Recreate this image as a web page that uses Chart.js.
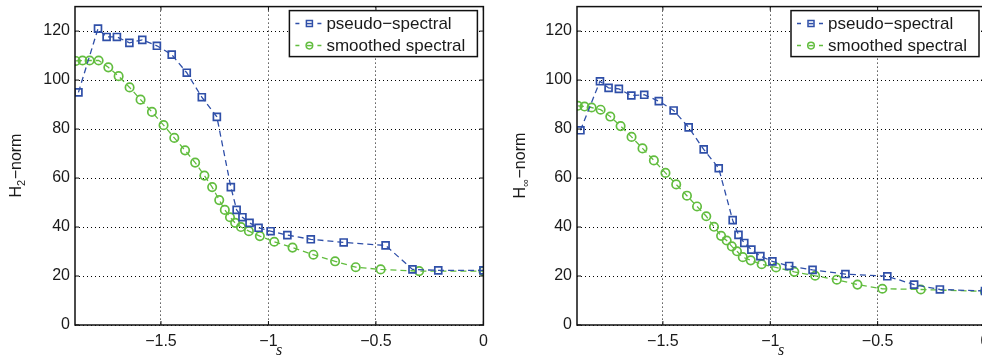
<!DOCTYPE html>
<html>
<head>
<meta charset="utf-8">
<script src="https://cdn.jsdelivr.net/npm/chart.js@4.4.1/dist/chart.umd.min.js"></script>
<style>
    html, body { margin: 0; padding: 0; background: #fff; overflow: hidden; width: 982px; height: 360px; }
    #c1 { position: absolute; left: 0; top: 0; }
    #c2 { position: absolute; left: 500px; top: 0; }
</style>
</head>
<body>
<canvas id="c1" width="490" height="360"></canvas>
<canvas id="c2" width="500" height="360"></canvas>
<script>
// s values (shared by both panels)
const sPseudo = [-1.884, -1.793, -1.753, -1.705, -1.647, -1.587, -1.519, -1.45, -1.38, -1.31, -1.24,
                 -1.175, -1.148, -1.121, -1.088, -1.046, -0.99, -0.912, -0.803, -0.65, -0.455, -0.33, -0.21, 0];
const sSmooth = [-1.896, -1.865, -1.832, -1.79, -1.745, -1.697, -1.646, -1.595, -1.542, -1.488, -1.438,
                 -1.388, -1.341, -1.298, -1.262, -1.229, -1.203, -1.179, -1.155, -1.128, -1.091, -1.04,
                 -0.973, -0.888, -0.791, -0.69, -0.594, -0.478, -0.299, 0];

// H2-norm
const h2Pseudo = [95, 121, 117.6, 117.6, 115.2, 116.4, 114, 110.4, 103, 93, 85,
                  56.3, 47, 44, 41.7, 39.7, 38.3, 36.7, 35, 33.7, 32.5, 22.7, 22.3, 22.3];
const h2Smooth = [107.8, 108, 108, 108, 105.2, 101.6, 97, 92, 87, 81.6, 76.4,
                  71.3, 66.3, 61, 56.3, 51, 47, 44, 41.7, 40, 38.3, 36.3,
                  34, 31.6, 28.7, 26, 23.6, 22.7, 22, 22];

// Hinf-norm
const hinfPseudo = [79.5, 99.5, 96.8, 96.4, 93.7, 94, 91.4, 87.6, 80.7, 71.7, 64,
                    42.8, 36.8, 33.5, 30.8, 28.1, 26, 24.1, 22.5, 20.8, 19.9, 16.5, 14.5, 13.9];
const hinfSmooth = [89.5, 89.2, 88.8, 87.9, 85.1, 81.2, 76.8, 72.1, 67.2, 62.1, 57.4,
                    52.8, 48.4, 44.4, 40.1, 36.4, 34.5, 32.1, 30.1, 27.7, 26.4, 24.8,
                    23.5, 21.7, 20.1, 18.5, 16.5, 14.8, 14.5, 13.7];

const xTicks = [-1.5, -1, -0.5, 0];
const yTicks = [0, 20, 40, 60, 80, 100, 120];
const seriesNames = ['pseudo\u2212spectral', 'smoothed spectral'];

const BLUE = '#2f4fa8';
const GREEN = '#62bd3f';
const FONT = '"Liberation Sans", Arial, sans-serif';

function minusFmt(v) {
    return v < 0 ? '\u2212' + Math.abs(v) : String(v);
}

function drawYLabel(ctx, x, yc, sub) {
    ctx.save();
    ctx.translate(x, yc);
    ctx.rotate(-Math.PI / 2);
    const big = '16px ' + FONT, small = '11px ' + FONT;
    ctx.font = big;
    const wH = ctx.measureText('H').width;
    const wN = ctx.measureText('\u2212norm').width;
    ctx.font = small;
    const wS = ctx.measureText(sub).width;
    let x0 = -(wH + wS + wN) / 2;
    ctx.textBaseline = 'middle';
    ctx.fillStyle = '#1a1a1a';
    ctx.font = big; ctx.fillText('H', x0, 0);
    ctx.font = small; ctx.fillText(sub, x0 + wH, 5);
    ctx.font = big; ctx.fillText('\u2212norm', x0 + wH + wS + 0.5, 0);
    ctx.restore();
}

function drawLegend(ctx, a) {
    const w = 188, h = 46;
    const bx = a.right - 6 - w, by = a.top + 4;
    ctx.save();
    ctx.fillStyle = '#fff';
    ctx.fillRect(bx, by, w, h);
    ctx.strokeStyle = '#111';
    ctx.lineWidth = 1.5;
    ctx.strokeRect(bx, by, w, h);
    const rows = [{ c: BLUE, y: by + 13, m: 'rect' }, { c: GREEN, y: by + 35, m: 'circle' }];
    rows.forEach((r, i) => {
        ctx.strokeStyle = r.c;
        ctx.lineWidth = 1.5;
        ctx.beginPath();
        ctx.moveTo(bx + 6, r.y); ctx.lineTo(bx + 10, r.y);
        ctx.moveTo(bx + 28, r.y); ctx.lineTo(bx + 32, r.y);
        ctx.stroke();
        ctx.beginPath();
        if (r.m === 'rect') ctx.rect(bx + 17, r.y - 3, 6, 6);
        else ctx.arc(bx + 20, r.y, 3.3, 0, Math.PI * 2);
        ctx.stroke();
        ctx.beginPath();
        ctx.moveTo(bx + 17.5, r.y); ctx.lineTo(bx + 22.5, r.y);
        ctx.stroke();
        ctx.fillStyle = '#1a1a1a';
        ctx.font = '17px ' + FONT;
        ctx.textBaseline = 'middle';
        ctx.fillText(seriesNames[i], bx + 37, r.y + 1);
    });
    ctx.restore();
}

const framePlugin = {
    id: 'frame',
    afterDraw(chart, args, opts) {
        const { ctx, chartArea: a, scales } = chart;
        ctx.save();
        ctx.strokeStyle = '#111';
        ctx.lineWidth = 1.5;
        ctx.strokeRect(a.left, a.top, a.right - a.left, a.bottom - a.top);
        // small inward tick marks, MATLAB style
        ctx.lineWidth = 1;
        ctx.beginPath();
        xTicks.forEach(v => {
            const px = scales.x.getPixelForValue(v);
            ctx.moveTo(px, a.bottom); ctx.lineTo(px, a.bottom - 4);
            ctx.moveTo(px, a.top); ctx.lineTo(px, a.top + 4);
        });
        yTicks.forEach(v => {
            const py = scales.y.getPixelForValue(v);
            ctx.moveTo(a.left, py); ctx.lineTo(a.left + 4, py);
            ctx.moveTo(a.right, py); ctx.lineTo(a.right - 4, py);
        });
        ctx.stroke();
        ctx.restore();
        drawLegend(ctx, a);
        drawYLabel(ctx, opts.labelX, (a.top + a.bottom) / 2, opts.sub);
    }
};

function makeChart(id, yPseudo, ySmooth, yWidth, padRight, labelX, sub) {
    return new Chart(document.getElementById(id), {
        type: 'scatter',
        data: {
            datasets: [
                {
                    label: seriesNames[0],
                    data: sPseudo.map((x, i) => ({ x: x, y: yPseudo[i] })),
                    showLine: true,
                    borderColor: BLUE,
                    borderWidth: 1.3,
                    borderDash: [6, 4],
                    pointStyle: 'rect',
                    pointRadius: 4.9,
                    pointBorderWidth: 1.7,
                    pointBorderColor: BLUE,
                    pointBackgroundColor: 'rgba(0,0,0,0)'
                },
                {
                    label: seriesNames[1],
                    data: sSmooth.map((x, i) => ({ x: x, y: ySmooth[i] })),
                    showLine: true,
                    borderColor: GREEN,
                    borderWidth: 1.3,
                    borderDash: [6, 4],
                    pointStyle: 'circle',
                    pointRadius: 4.2,
                    pointBorderWidth: 1.7,
                    pointBorderColor: GREEN,
                    pointBackgroundColor: 'rgba(0,0,0,0)'
                }
            ]
        },
        options: {
            responsive: false,
            animation: false,
            events: [],
            layout: { padding: { top: 3, right: padRight, left: 0, bottom: 0 } },
            plugins: {
                legend: { display: false },
                tooltip: { enabled: false },
                frame: { labelX: labelX, sub: sub }
            },
            scales: {
                x: {
                    type: 'linear',
                    min: -1.9,
                    max: 0,
                    afterBuildTicks: s => { s.ticks = xTicks.map(v => ({ value: v })); },
                    afterFit: s => { s.height = 35; s.paddingLeft = 0; s.paddingRight = 0; },
                    grid: { color: '#000', lineWidth: 1, drawTicks: false },
                    border: { display: false, dash: [1, 3] },
                    ticks: { color: '#1a1a1a', font: { family: FONT, size: 16 }, padding: 7, maxRotation: 0, autoSkip: false, callback: v => minusFmt(v) },
                    title: { display: true, text: 's', color: '#1a1a1a', font: { family: '"Liberation Serif", serif', style: 'italic', size: 16 }, padding: 0 }
                },
                y: {
                    min: 0,
                    max: 130,
                    afterBuildTicks: s => { s.ticks = yTicks.map(v => ({ value: v })); },
                    afterFit: s => { s.width = yWidth; s.paddingTop = 0; s.paddingBottom = 0; },
                    grid: { color: '#000', lineWidth: 1, drawTicks: false },
                    border: { display: false, dash: [1, 3] },
                    ticks: { color: '#1a1a1a', font: { family: FONT, size: 16 }, padding: 5 }
                }
            }
        },
        plugins: [framePlugin]
    });
}

makeChart('c1', h2Pseudo, h2Smooth, 75, 5, 17, '2');
makeChart('c2', hinfPseudo, hinfSmooth, 77, 15, 21, '\u221e');
</script>
</body>
</html>
